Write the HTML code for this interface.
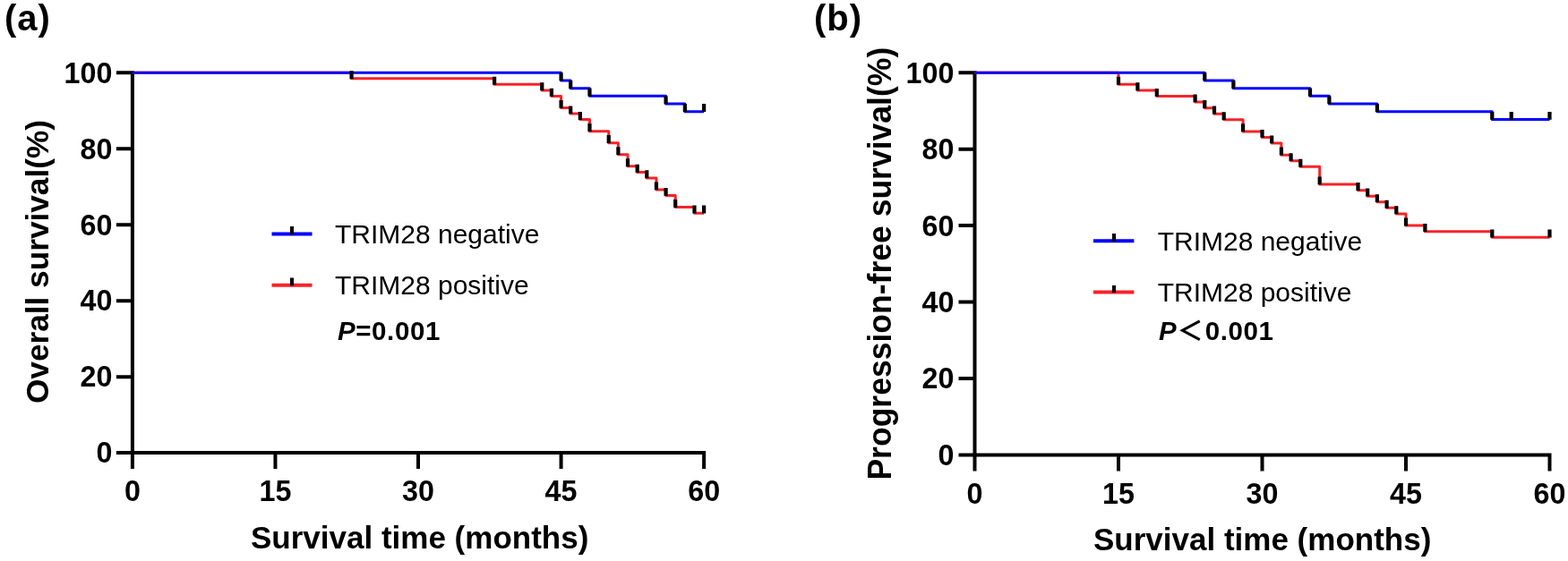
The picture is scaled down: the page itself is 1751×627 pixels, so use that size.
<!DOCTYPE html>
<html><head><meta charset="utf-8"><title>Kaplan-Meier survival curves</title>
<style>
html,body{margin:0;padding:0;background:#fff;width:1751px;height:627px;overflow:hidden}
svg{display:block}
text{font-family:"Liberation Sans", Arial, sans-serif;fill:#000}
.tl{font-size:32.3px;font-weight:bold}
.at{font-size:35px;font-weight:bold}
.yt{font-size:35.4px;font-weight:bold}
.pl{font-size:40px;font-weight:bold;letter-spacing:1px}
.lg{font-size:30px}
.pv{font-size:29.5px;font-weight:bold;letter-spacing:0.6px}
</style></head><body>
<svg width="1751" height="627" viewBox="0 0 1751 627">
<rect width="1751" height="627" fill="#fff"/>
<text transform="translate(5.00 34.00) scale(1 1.000)" class="pl">(a)</text>
<text transform="translate(909.00 34.00) scale(1 1.000)" class="pl">(b)</text>
<path d="M147.90 79.30 V524.10 M129.90 506.10 H788.12 M129.90 421.14 H147.90 M129.90 336.18 H147.90 M129.90 251.22 H147.90 M129.90 166.26 H147.90 M129.90 81.30 H147.90 M307.46 506.10 V524.10 M467.01 506.10 V524.10 M626.57 506.10 V524.10 M786.12 506.10 V524.10" fill="none" stroke="#000" stroke-width="4"/>
<path d="M147.90 81.30 H392.55 V87.84 H552.11 V94.37 H605.29 V100.91 H615.93 V107.44 H626.57 V120.51 H637.20 V127.05 H647.84 V133.58 H658.48 V146.65 H679.75 V159.72 H690.39 V172.80 H701.02 V185.87 H711.66 V192.40 H722.30 V198.94 H732.94 V212.01 H743.57 V218.54 H754.21 V231.61 H775.48 V238.15 H786.12" fill="none" stroke="#f82228" stroke-width="3.0" stroke-linejoin="round"/>
<path d="M147.90 81.30 H626.57 V89.97 H637.20 V98.64 H658.48 V107.31 H743.57 V115.98 H764.85 V124.65 H786.12" fill="none" stroke="#0000ff" stroke-width="3.0" stroke-linejoin="round"/>
<path d="M392.55 88.14 V79.24 M552.11 94.67 V85.77 M605.29 101.21 V92.31 M615.93 107.74 V98.84 M626.57 120.81 V111.91 M637.20 127.35 V118.45 M647.84 133.88 V124.98 M658.48 146.95 V138.05 M679.75 160.02 V151.12 M690.39 173.10 V164.20 M701.02 186.17 V177.27 M711.66 192.70 V183.80 M722.30 199.24 V190.34 M732.94 212.31 V203.41 M743.57 218.84 V209.94 M754.21 231.91 V223.01 M775.48 238.45 V229.55 M786.12 238.45 V229.55" fill="none" stroke="#000" stroke-width="4.2"/>
<path d="M626.57 90.27 V81.37 M637.20 98.94 V90.04 M658.48 107.61 V98.71 M743.57 116.28 V107.38 M764.85 124.95 V116.05 M786.12 124.95 V116.05" fill="none" stroke="#000" stroke-width="4.2"/>
<text transform="translate(125.40 517.40) scale(1 1.040)" class="tl" text-anchor="end">0</text>
<text transform="translate(125.40 432.44) scale(1 1.040)" class="tl" text-anchor="end">20</text>
<text transform="translate(125.40 347.48) scale(1 1.040)" class="tl" text-anchor="end">40</text>
<text transform="translate(125.40 262.52) scale(1 1.040)" class="tl" text-anchor="end">60</text>
<text transform="translate(125.40 177.56) scale(1 1.040)" class="tl" text-anchor="end">80</text>
<text transform="translate(125.40 92.60) scale(1 1.040)" class="tl" text-anchor="end">100</text>
<text transform="translate(147.90 560.00) scale(1 1.040)" class="tl" text-anchor="middle">0</text>
<text transform="translate(307.46 560.00) scale(1 1.040)" class="tl" text-anchor="middle">15</text>
<text transform="translate(467.01 560.00) scale(1 1.040)" class="tl" text-anchor="middle">30</text>
<text transform="translate(626.57 560.00) scale(1 1.040)" class="tl" text-anchor="middle">45</text>
<text transform="translate(786.12 560.00) scale(1 1.040)" class="tl" text-anchor="middle">60</text>
<text transform="translate(54.00 451.00) rotate(-90) scale(1 1.020)" class="yt" style="font-size:35.2px">Overall survival(%)</text>
<text transform="translate(280.00 612.60) scale(1 1.000)" class="at">Survival time (months)</text>
<path d="M303.5 261.4 H348.5" stroke="#0000ff" stroke-width="4"/>
<path d="M303.5 318.7 H348.5" stroke="#f82228" stroke-width="4"/>
<path d="M326 262 V253 M326 319.3 V310.5" stroke="#000" stroke-width="4"/>
<text transform="translate(374.00 272.00) scale(1 1.010)" class="lg">TRIM28 negative</text>
<text transform="translate(374.00 329.30) scale(1 1.010)" class="lg">TRIM28 positive</text>
<text transform="translate(377.00 380.40) scale(1 1.020)" class="pv"><tspan font-style="italic">P</tspan>=0.001</text>
<path d="M1088.50 79.20 V526.40 M1070.50 508.40 H1732.50 M1070.50 422.96 H1088.50 M1070.50 337.52 H1088.50 M1070.50 252.08 H1088.50 M1070.50 166.64 H1088.50 M1070.50 81.20 H1088.50 M1249.00 508.40 V526.40 M1409.50 508.40 V526.40 M1570.00 508.40 V526.40 M1730.50 508.40 V526.40" fill="none" stroke="#000" stroke-width="4"/>
<path d="M1088.50 81.20 H1249.00 V94.34 H1270.40 V100.92 H1291.80 V107.49 H1334.60 V114.06 H1345.30 V120.63 H1356.00 V127.21 H1366.70 V133.78 H1388.10 V146.92 H1409.50 V153.50 H1420.20 V160.07 H1430.90 V173.21 H1441.60 V179.78 H1452.30 V186.36 H1473.70 V206.07 H1516.50 V212.65 H1527.20 V219.22 H1537.90 V225.79 H1548.60 V232.36 H1559.30 V238.94 H1570.00 V252.08 H1591.40 V258.65 H1666.30 V265.22 H1730.50" fill="none" stroke="#f82228" stroke-width="3.0" stroke-linejoin="round"/>
<path d="M1088.50 81.20 H1345.30 V89.92 H1377.40 V98.64 H1463.00 V107.36 H1484.40 V116.07 H1537.90 V124.79 H1666.30 V133.51 H1730.50" fill="none" stroke="#0000ff" stroke-width="3.0" stroke-linejoin="round"/>
<path d="M1249.00 94.64 V85.74 M1270.40 101.22 V92.32 M1291.80 107.79 V98.89 M1334.60 114.36 V105.46 M1345.30 120.93 V112.03 M1356.00 127.51 V118.61 M1366.70 134.08 V125.18 M1388.10 147.22 V138.32 M1409.50 153.80 V144.90 M1420.20 160.37 V151.47 M1430.90 173.51 V164.61 M1441.60 180.08 V171.18 M1452.30 186.66 V177.76 M1473.70 206.37 V197.47 M1516.50 212.95 V204.05 M1527.20 219.52 V210.62 M1537.90 226.09 V217.19 M1548.60 232.66 V223.76 M1559.30 239.24 V230.34 M1570.00 252.38 V243.48 M1591.40 258.95 V250.05 M1666.30 265.52 V256.62 M1730.50 265.52 V256.62" fill="none" stroke="#000" stroke-width="4.2"/>
<path d="M1345.30 90.22 V81.32 M1377.40 98.94 V90.04 M1463.00 107.66 V98.76 M1484.40 116.37 V107.47 M1537.90 125.09 V116.19 M1666.30 133.81 V124.91 M1687.70 133.81 V124.91 M1730.50 133.81 V124.91" fill="none" stroke="#000" stroke-width="4.2"/>
<text transform="translate(1065.50 519.90) scale(1 1.040)" class="tl" text-anchor="end">0</text>
<text transform="translate(1065.50 434.46) scale(1 1.040)" class="tl" text-anchor="end">20</text>
<text transform="translate(1065.50 349.02) scale(1 1.040)" class="tl" text-anchor="end">40</text>
<text transform="translate(1065.50 263.58) scale(1 1.040)" class="tl" text-anchor="end">60</text>
<text transform="translate(1065.50 178.14) scale(1 1.040)" class="tl" text-anchor="end">80</text>
<text transform="translate(1065.50 92.70) scale(1 1.040)" class="tl" text-anchor="end">100</text>
<text transform="translate(1088.50 562.50) scale(1 1.040)" class="tl" text-anchor="middle">0</text>
<text transform="translate(1249.00 562.50) scale(1 1.040)" class="tl" text-anchor="middle">15</text>
<text transform="translate(1409.50 562.50) scale(1 1.040)" class="tl" text-anchor="middle">30</text>
<text transform="translate(1570.00 562.50) scale(1 1.040)" class="tl" text-anchor="middle">45</text>
<text transform="translate(1730.50 562.50) scale(1 1.040)" class="tl" text-anchor="middle">60</text>
<text transform="translate(995.00 536.60) rotate(-90) scale(1 1.020)" class="yt" style="font-size:35.55px">Progression-free survival(%)</text>
<text transform="translate(1221.00 615.40) scale(1 1.000)" class="at">Survival time (months)</text>
<path d="M1221 269.2 H1266.4" stroke="#0000ff" stroke-width="4"/>
<path d="M1221 326.5 H1266.4" stroke="#f82228" stroke-width="4"/>
<path d="M1244 269.8 V261 M1244 327 V319" stroke="#000" stroke-width="4"/>
<text transform="translate(1292.70 280.30) scale(1 1.010)" class="lg">TRIM28 negative</text>
<text transform="translate(1292.70 337.30) scale(1 1.010)" class="lg">TRIM28 positive</text>
<text transform="translate(1294.00 380.40) scale(1 1.020)" class="pv"><tspan font-style="italic">P</tspan><tspan style="font-weight:700;font-family:'Liberation Sans','Noto Sans CJK SC',sans-serif;letter-spacing:2px">＜</tspan>0.001</text>
</svg>
</body></html>
